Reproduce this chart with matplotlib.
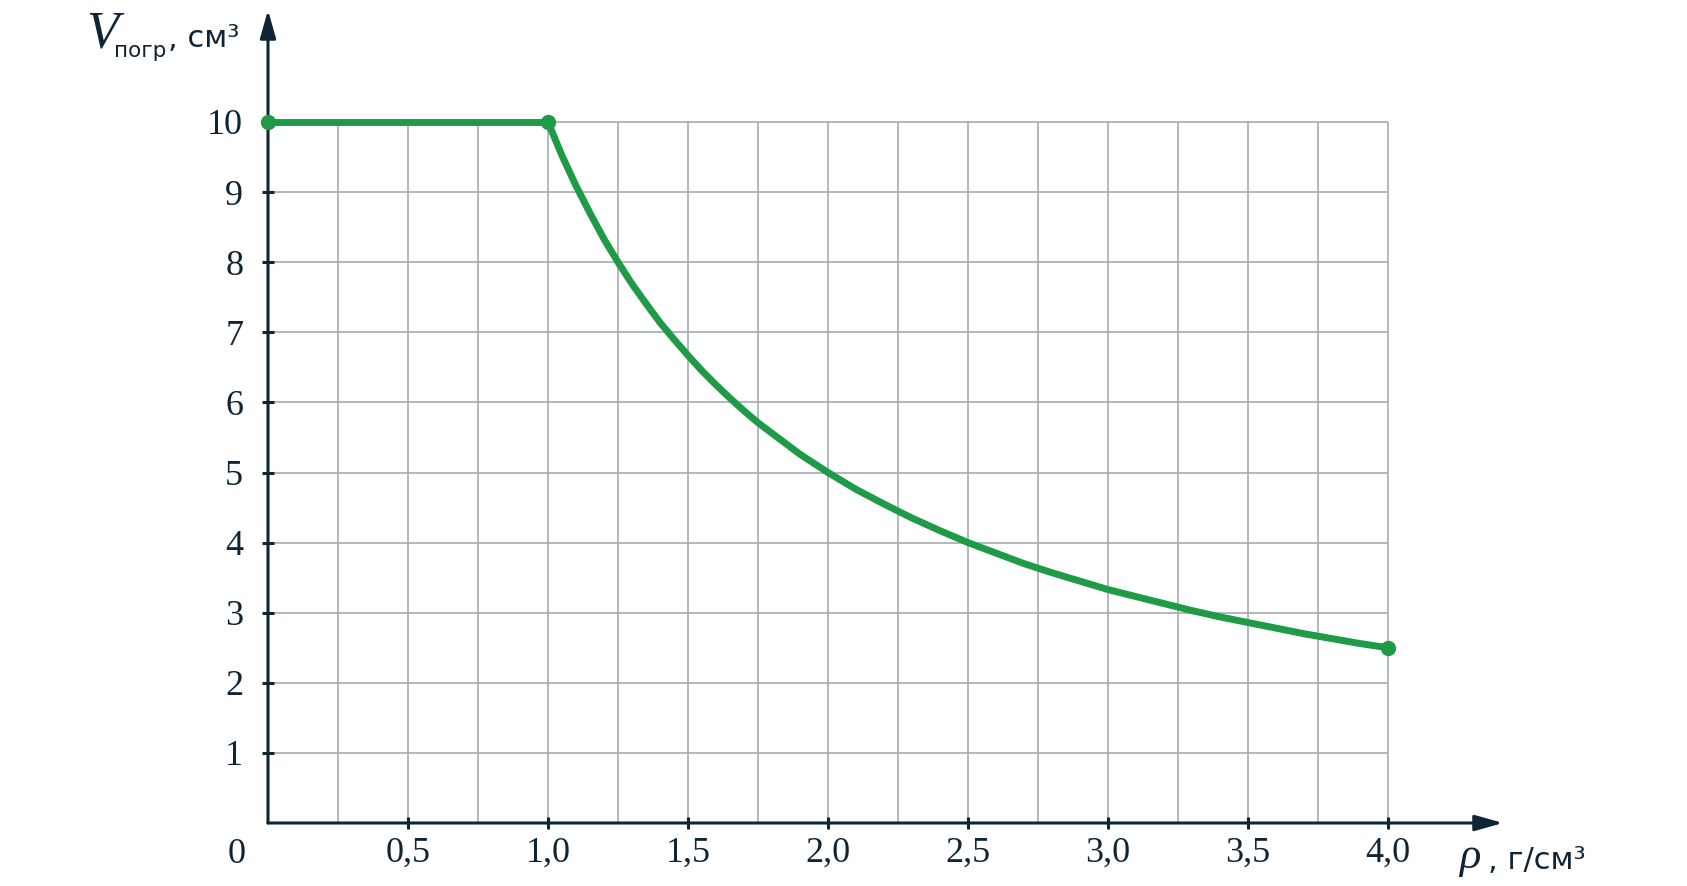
import matplotlib
matplotlib.use("Agg")
import matplotlib.pyplot as plt

# ---- data ----
rho_flat = [0.0, 1.0]
v_flat = [10.0, 10.0]
rho_curve = [1.00, 1.05, 1.10, 1.15, 1.20, 1.25, 1.30, 1.35, 1.40, 1.45, 1.50,
             1.55, 1.60, 1.65, 1.70, 1.75, 1.80, 1.85, 1.90, 1.95, 2.00,
             2.1, 2.2, 2.3, 2.4, 2.5, 2.6, 2.7, 2.8, 2.9, 3.0,
             3.1, 3.2, 3.3, 3.4, 3.5, 3.6, 3.7, 3.8, 3.9, 4.0]
v_curve = [10.00, 9.52, 9.09, 8.70, 8.33, 8.00, 7.69, 7.41, 7.14, 6.90, 6.67,
           6.45, 6.25, 6.06, 5.88, 5.71, 5.56, 5.41, 5.26, 5.13, 5.00,
           4.76, 4.55, 4.35, 4.17, 4.00, 3.85, 3.70, 3.57, 3.45, 3.33,
           3.23, 3.13, 3.03, 2.94, 2.86, 2.78, 2.70, 2.63, 2.56, 2.50]
rho_points = [0.0, 1.0, 4.0]
v_points = [10.0, 10.0, 2.5]

x_ticks = [0.5, 1.0, 1.5, 2.0, 2.5, 3.0, 3.5, 4.0]
x_tick_labels = ["0,5", "1,0", "1,5", "2,0", "2,5", "3,0", "3,5", "4,0"]
y_ticks = [1, 2, 3, 4, 5, 6, 7, 8, 9, 10]
y_tick_labels = ["1", "2", "3", "4", "5", "6", "7", "8", "9", "10"]
x_grid = [0.25 * i for i in range(1, 17)]
y_grid = [1, 2, 3, 4, 5, 6, 7, 8, 9, 10]

# ---- styles ----
W, H = 1687, 886
DARK = "#0e2535"
GREEN = "#1f9a46"
GRID = "#a4acb0"
SERIF = "Liberation Serif"
SANS = "DejaVu Sans"

fig = plt.figure(figsize=(W / 100, H / 100), dpi=100)
ax = fig.add_axes([0, 0, 1, 1])

# pixel mapping: x_px = 268 + 280*rho ; y_px = 823 - 70.1*V
x0, sx = 268.0, 280.0
y0, sy = 823.0, 70.1
ax.set_xlim(-x0 / sx, (W - x0) / sx)
ax.set_ylim((y0 - H) / sy, y0 / sy)
for s in ax.spines.values():
    s.set_visible(False)
ax.spines["left"].set_position(("data", 0))
ax.spines["bottom"].set_position(("data", 0))
ax.patch.set_alpha(0)

# grid
ax.vlines(x_grid, 0, max(y_grid), color=GRID, lw=1.2, zorder=1)
ax.hlines(y_grid, 0, max(x_grid), color=GRID, lw=1.2, zorder=1)

# axes arrows
x_tip = (1503 - x0) / sx
y_tip = (y0 - 10) / sy
arrow_kw = dict(arrowstyle="-|>,head_length=1.7,head_width=0.48", color=DARK,
                lw=2.2, shrinkA=0, shrinkB=0, mutation_scale=10)
ax.annotate("", xy=(x_tip, 0), xytext=(0, 0), arrowprops=arrow_kw, zorder=3)
ax.annotate("", xy=(0, y_tip), xytext=(0, 0), arrowprops=arrow_kw, zorder=3)

# ticks
ax.set_xticks(x_ticks, x_tick_labels)
ax.set_yticks(y_ticks, y_tick_labels)
ax.tick_params(axis="both", direction="inout", length=8.6, width=2.2,
               color=DARK, labelcolor=DARK, labelsize=26)
ax.tick_params(axis="y", pad=13.5)
ax.tick_params(axis="x", pad=5.5)
for lab in ax.get_xticklabels() + ax.get_yticklabels():
    lab.set_fontfamily(SERIF)
ax.text((237 - x0) / sx, (y0 - 863) / sy, "0", ha="center", va="baseline",
        fontsize=26, family=SERIF, color=DARK)

# curve
ax.plot(rho_flat, v_flat, color=GREEN, lw=5.0, solid_capstyle="round", zorder=4)
ax.plot(rho_curve, v_curve, color=GREEN, lw=5.0, solid_capstyle="round",
        solid_joinstyle="round", zorder=4)
ax.plot(rho_points, v_points, "o", color=GREEN, ms=10, zorder=5, clip_on=False)

# axis labels (pixel placement)
def ftext(x, y, s, **kw):
    fig.text(x / W, 1 - y / H, s, va="baseline", ha="left", color=DARK, **kw)

ftext(86, 48, "V", fontsize=38, family=SERIF, style="italic")
ftext(114, 57, "погр", fontsize=15.5, family=SANS)
ftext(168, 47, ", см³", fontsize=22, family=SANS)

ftext(1459, 868, "ρ", fontsize=32, family=SERIF, style="italic")
ftext(1488, 869, ", г/см³", fontsize=22, family=SANS)

fig.savefig("out.png", dpi=100)
